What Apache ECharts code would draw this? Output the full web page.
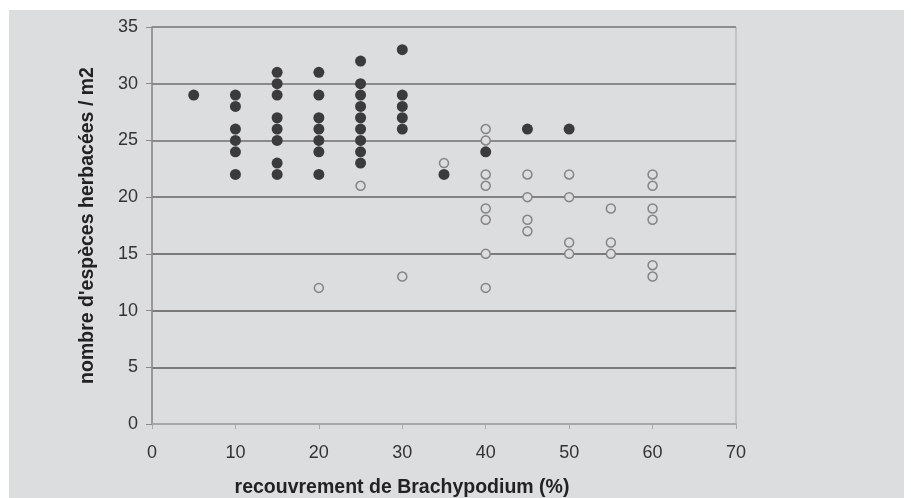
<!DOCTYPE html>
<html>
<head>
<meta charset="utf-8">
<script src="https://cdn.jsdelivr.net/npm/echarts@6/dist/echarts.min.js"></script>
<style>
html,body{margin:0;padding:0;background:#ffffff;width:911px;height:498px;overflow:hidden;}
#chart{position:absolute;left:9px;top:10px;width:895px;height:488px;background:#dcdddf;}
</style>
</head>
<body>
<div id="chart"></div>
<script>
// Filled points (dark) : [recouvrement %, nombre d'espèces]
const filledPoints = [
  [5,29],
  [10,29],[10,28],[10,26],[10,25],[10,24],[10,22],
  [15,31],[15,30],[15,29],[15,27],[15,26],[15,25],[15,23],[15,22],
  [20,31],[20,29],[20,27],[20,26],[20,25],[20,24],[20,22],
  [25,32],[25,30],[25,29],[25,28],[25,27],[25,26],[25,25],[25,24],[25,23],
  [30,33],[30,29],[30,28],[30,27],[30,26],
  [35,22],
  [40,24],
  [45,26],
  [50,26]
];
// Open points (hollow)
const openPoints = [
  [20,12],
  [25,21],
  [30,13],
  [35,23],
  [40,26],[40,25],[40,22],[40,21],[40,19],[40,18],[40,15],[40,12],
  [45,22],[45,20],[45,18],[45,17],
  [50,22],[50,20],[50,16],[50,15],
  [55,19],[55,16],[55,15],
  [60,22],[60,21],[60,19],[60,18],[60,14],[60,13]
];
const xTicks = {min:0, max:70, interval:10};
const yTicks = {min:0, max:35, interval:5};
const xTitle = 'recouvrement de Brachypodium (%)';
const yTitle = "nombre d'espèces herbacées / m2";

const FONT = "'Liberation Sans', Arial, sans-serif";
const chart = echarts.init(document.getElementById('chart'));
chart.setOption({
  animation: false,
  backgroundColor: '#dcdddf',
  grid: {left:143, right:168, top:17, bottom:74, show:true, borderColor:'#aaaaaa', borderWidth:1, backgroundColor:'transparent'},
  xAxis: {
    type:'value', min:xTicks.min, max:xTicks.max, interval:xTicks.interval,
    axisLine:{show:true, lineStyle:{color:'#a8a8a8', width:1.5}},
    axisTick:{show:true, length:5, inside:false, lineStyle:{color:'#a8a8a8'}},
    axisLabel:{color:'#333', fontSize:18, fontFamily:FONT, margin:20},
    splitLine:{show:false}
  },
  yAxis: {
    type:'value', min:yTicks.min, max:yTicks.max, interval:yTicks.interval,
    name: yTitle, nameLocation:'middle', nameRotate:90, nameGap:54,
    nameTextStyle:{color:'#222', fontSize:19.5, fontWeight:'bold', fontFamily:FONT},
    axisLine:{show:true, lineStyle:{color:'#8a8a8a', width:1.5}},
    axisTick:{show:true, length:6, inside:false, lineStyle:{color:'#8a8a8a'}},
    axisLabel:{color:'#333', fontSize:18, fontFamily:FONT, margin:14},
    splitLine:{show:true, lineStyle:{color:['#a8a8a8','#7a7a7a','#7a7a7a','#7a7a7a','#828282','#8a8a8a','#8a8a8a','#8e8e8e'], width:1.8}}
  },
  graphic: [{
    type:'text', x:393, y:478,
    style:{text:xTitle, font:'bold 19.5px ' + FONT, fill:'#222', align:'center', verticalAlign:'middle'}
  }],
  series: [
    {
      type:'scatter', data: openPoints, symbol:'circle', symbolSize:9,
      itemStyle:{color:'#dcdddf', borderColor:'#858585', borderWidth:1.5, opacity:1}, z:3
    },
    {
      type:'scatter', data: filledPoints, symbol:'circle', symbolSize:11,
      itemStyle:{color:'#3b3b3b', opacity:1}, z:4
    }
  ]
});
</script>
</body>
</html>
